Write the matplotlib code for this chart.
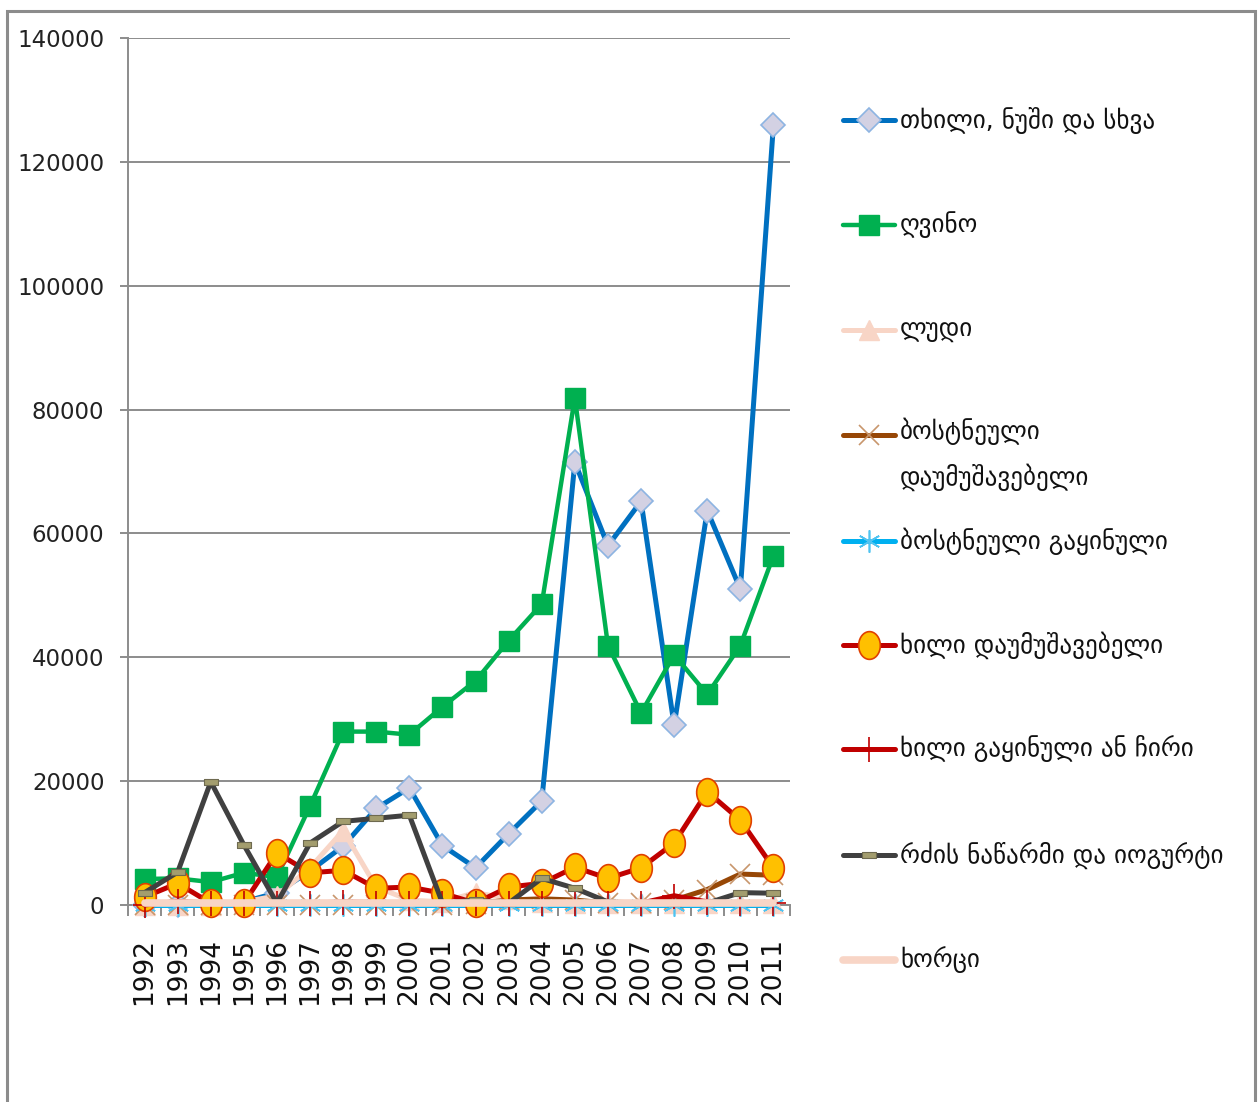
# -*- coding: utf-8 -*-
"""
საქართველოს სასოფლო-სამეურნეო ექსპორტი, 1992-2011
"""

import matplotlib
matplotlib.use('Agg')
import matplotlib.pyplot as plt
from matplotlib.lines import Line2D
from matplotlib.patches import Rectangle
import numpy as np

plt.rcParams['font.family'] = ['DejaVu Sans']

# მონაცემები
years = [str(y) for y in range(1992, 2012)]

nuts = [0, 0, 0, 500, 2000, 5500, 9500, 15600, 18900, 9600, 6000, 11500,
        16800, 71500, 58000, 65200, 29000, 63700, 51000, 126000]
wine = [4200, 4300, 3700, 5200, 4500, 16000, 28000, 28000, 27500, 32000,
        36200, 42700, 48600, 81900, 41900, 31000, 40400, 34000, 41900, 56400]
beer = [0, 0, 0, 500, 1500, 6000, 12000, 2900, 800, 500, 2000, 1000,
        500, 300, 300, 300, 300, 300, 300, 300]
veg_raw = [0, 0, 0, 0, 0, 0, 0, 0, 0, 0, 200, 800, 1000, 800, 300, 300,
           800, 2500, 5000, 4800]
veg_frozen = [0] * 20
fruit_raw = [1300, 3500, 300, 300, 8400, 5200, 5600, 2700, 2900, 1900,
             300, 2900, 3500, 6100, 4300, 6000, 10000, 18300, 13700, 6000]
fruit_dried = [0, 600, 300, 300, 300, 300, 500, 400, 400, 300, 300, 300,
               300, 300, 300, 300, 1500, 500, 300, 300]
dairy = [2000, 5300, 19900, 9700, 300, 10000, 13500, 14000, 14500, 300,
         800, 300, 4300, 2700, 500, 300, 300, 300, 2000, 1900]
meat = [300] * 20

labels = ['თხილი, ნუში და სხვა', 'ღვინო', 'ლუდი',
          'ბოსტნეული\nდაუმუშავებელი', 'ბოსტნეული გაყინული',
          'ხილი დაუმუშავებელი', 'ხილი გაყინული ან ჩირი',
          'რძის ნაწარმი და იოგურტი', 'ხორცი']

# ნიშნულები
theta = np.linspace(0, 2 * np.pi, 40)
ellipse = list(zip(0.78 * np.cos(theta), np.sin(theta)))
dash_rect = [(-1, -0.45), (1, -0.45), (1, 0.45), (-1, 0.45), (-1, -0.45)]

styles = [
    dict(color='#0070C0', lw=3.6, marker='D', ms=12, mfc='#D3D1E3', mec='#8DB4E2', mew=1.2),
    dict(color='#00B050', lw=3.2, marker='s', ms=15, mfc='#00B050', mec='#00B050', mew=1),
    dict(color='#F8D5C6', lw=3.6, marker='^', ms=14, mfc='#F8D5C6', mec='#F8D5C6', mew=1),
    dict(color='#974706', lw=3.6, marker='x', ms=14, mfc='none', mec='#C8966C', mew=1.2),
    dict(color='#00B0F0', lw=3.6, marker=(6, 2, 0), ms=16, mfc='none', mec='#4FC3F0', mew=1.2),
    dict(color='#C00000', lw=3.6, marker=ellipse, ms=20, mfc='#FFC000', mec='#E04000', mew=1.2),
    dict(color='#C00000', lw=3.6, marker='+', ms=18, mfc='none', mec='#C00000', mew=1.2),
    dict(color='#404040', lw=3.6, marker=dash_rect, ms=10, mfc='#A39D6E', mec='#6E6A50', mew=0.8),
    dict(color='#F8D5C6', lw=5.5, marker=None),
]

series = [nuts, wine, beer, veg_raw, veg_frozen, fruit_raw, fruit_dried, dairy, meat]

W, H = 1259, 1102
fig = plt.figure(figsize=(W / 100, H / 100), dpi=100, facecolor='white')
ax = fig.add_axes([128 / W, 1 - 905 / H, (790 - 128) / W, (905 - 38) / H])

x = np.arange(len(years))
for i, (vals, st) in enumerate(zip(series, styles)):
    ax.plot(x, vals, clip_on=False, zorder=3 + i, solid_capstyle='round',
            solid_joinstyle='round', **st)

ax.set_xlim(-0.5, len(years) - 0.5)
ax.set_ylim(0, 140000)
ax.set_yticks(range(0, 140001, 20000))
ax.yaxis.grid(True, color='#8C8C8C', lw=1.4)
ax.set_axisbelow(True)

for s in ['top', 'right']:
    ax.spines[s].set_visible(False)
for s in ['left', 'bottom']:
    ax.spines[s].set_color('#8C8C8C')
    ax.spines[s].set_linewidth(1.4)

# კატეგორიების ღერძი
ax.set_xticks(np.arange(-0.5, len(years), 1.0))
ax.set_xticklabels([])
ax.set_xticks(x, minor=True)
ax.set_xticklabels(years, minor=True, rotation=90, fontsize=19, color='#111111')
ax.tick_params(axis='x', which='major', length=8, width=1.4, color='#8C8C8C', direction='out')
ax.tick_params(axis='x', which='minor', length=0, pad=24)
ax.tick_params(axis='y', length=6, width=1.4, color='#8C8C8C', pad=11,
               labelsize=16.5, labelcolor='#222222')

# ლეგენდა
leg_y = [120, 225, 330, 435, 541, 645, 749, 855, 960]
for lab, st, yy in zip(labels, styles, leg_y):
    fy = 1 - yy / H
    fig.add_artist(Line2D([843 / W, 869 / W, 895 / W], [fy, fy, fy],
                          transform=fig.transFigure, markevery=[1],
                          solid_capstyle='round', **st))
    if '\n' in lab:
        fig.text(900 / W, 1 - (yy - 17) / H, lab, fontsize=18, va='top', ha='left',
                 linespacing=1.85, color='#111111')
    else:
        fig.text(900 / W, fy, lab, fontsize=18, va='center', ha='left',
                 color='#111111')

# ჩარჩო
fig.add_artist(Rectangle((7 / W, -0.05), (1255 - 7) / W, 1 - 11 / H + 0.05,
                         transform=fig.transFigure, fill=False,
                         edgecolor='#8C8C8C', lw=2.2))

fig.savefig('out.png', dpi=100, facecolor='white')
